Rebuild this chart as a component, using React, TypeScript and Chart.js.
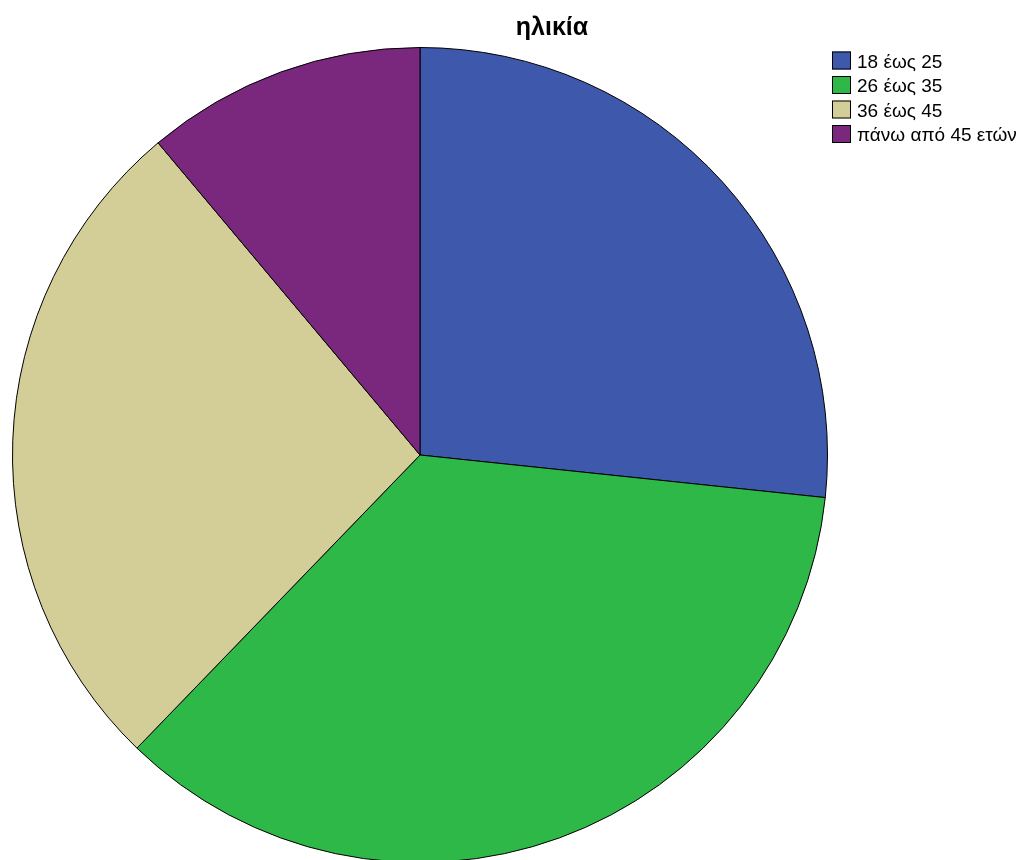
import React, { useEffect, useRef } from "react";
import { Chart, registerables } from "chart.js";

Chart.register(...registerables);

const title = "ηλικία";
const categories = ["18 έως 25", "26 έως 35", "36 έως 45", "πάνω από 45 ετών"];
const counts = [12, 16, 12, 5];
const colors = ["#3E58AC", "#2EB848", "#D3CE97", "#7A287E"];

const overlayPlugin = {
  id: "overlay",
  afterDraw(chart: any) {
    const ctx = chart.ctx;
    ctx.save();
    ctx.fillStyle = "#000";
    ctx.font = "bold 25px 'Liberation Sans', Arial, sans-serif";
    ctx.textAlign = "center";
    ctx.textBaseline = "alphabetic";
    ctx.fillText(title, 552, 35);
    ctx.font = "19px 'Liberation Sans', Arial, sans-serif";
    ctx.textAlign = "left";
    const labels = chart.data.labels as string[];
    const bg = chart.data.datasets[0].backgroundColor as string[];
    labels.forEach((lab, i) => {
      const y = 60.5 + i * 24.5;
      ctx.fillStyle = bg[i];
      ctx.fillRect(832, y - 9, 19, 18);
      ctx.strokeStyle = "#000";
      ctx.lineWidth = 1;
      ctx.strokeRect(832.5, y - 8.5, 18, 17);
      ctx.fillStyle = "#000";
      ctx.fillText(lab, 857, y + 7);
    });
    ctx.restore();
  },
};

export default function App() {
  const ref = useRef<HTMLCanvasElement>(null);
  useEffect(() => {
    document.body.style.margin = "0";
    const chart = new Chart(ref.current!, {
      type: "pie",
      data: {
        labels: categories,
        datasets: [
          {
            data: counts,
            backgroundColor: colors,
            borderColor: "#000",
            borderWidth: 1,
          },
        ],
      },
      options: {
        responsive: false,
        animation: false,
        layout: { padding: { left: 12, top: 47, right: 198, bottom: 17 } },
        plugins: {
          legend: { display: false },
          tooltip: { enabled: false },
          title: { display: false },
        },
      },
      plugins: [overlayPlugin],
    });
    return () => chart.destroy();
  }, []);
  return (
    <div style={{ width: 1026, height: 860, overflow: "hidden", background: "#fff" }}>
      <canvas ref={ref} width={1026} height={880} style={{ display: "block" }} />
    </div>
  );
}
